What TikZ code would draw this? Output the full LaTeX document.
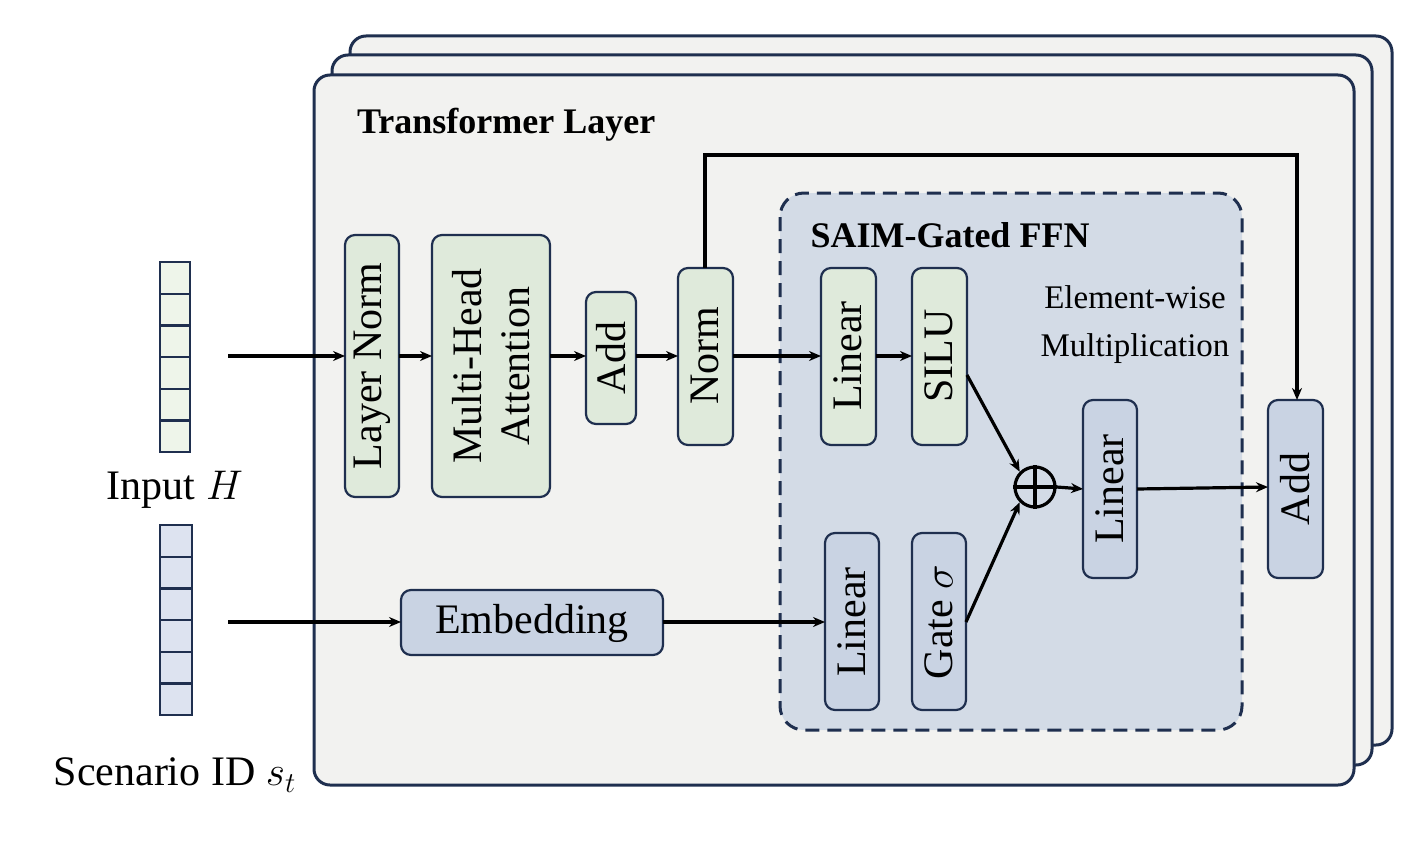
\documentclass[tikz,border=0pt]{standalone}
\usepackage{fontspec}
\setmainfont{Liberation Serif}
\usetikzlibrary{arrows.meta}
\definecolor{navy}{HTML}{1F2F4F}
\definecolor{bgf}{HTML}{F2F2F0}
\definecolor{gfill}{HTML}{DFEADB}
\definecolor{bfill}{HTML}{C9D3E3}
\definecolor{saim}{HTML}{D3DBE6}
\definecolor{cellg}{HTML}{EEF5EA}
\definecolor{cellb}{HTML}{DDE3F0}
\begin{document}
\begin{tikzpicture}[x=0.5pt,y=-0.5pt,
 frame/.style={draw=navy,line width=1.5pt,fill=bgf,rounded corners=8pt},
 gbox/.style={draw=navy,line width=1.1pt,fill=gfill,rounded corners=5pt},
 bbox/.style={draw=navy,line width=1.1pt,fill=bfill,rounded corners=5pt},
 lbl/.style={font=\fontsize{21}{24}\selectfont,rotate=90,align=center},
 arr/.style={-{Stealth[length=6pt,width=5pt]},line width=1.6pt},
 cellgs/.style={draw=navy,line width=1.1pt,fill=cellg},
 cellbs/.style={draw=navy,line width=1.1pt,fill=cellb}]
\useasboundingbox (0,0) rectangle (1428,840);
\draw[frame] (350,36) rectangle (1392,745);
\draw[frame] (332,55) rectangle (1372,765);
\draw[frame] (314,75) rectangle (1354,785);
\node[anchor=west,font=\bfseries\fontsize{18}{22}\selectfont] (tl) at (350,125) {Transformer Layer};
% input columns
\foreach \i in {0,...,5}{\draw[cellgs] (160,262+\i*31.7) rectangle (190,262+\i*31.7+31.7);}
\foreach \i in {0,...,5}{\draw[cellbs] (160,525+\i*31.7) rectangle (192,525+\i*31.7+31.7);}
\coordinate (inH) at (228,356);
\coordinate (inS) at (228,622);
\node[font=\fontsize{21}{25}\selectfont] (lh) at (175,490) {Input $H$};
\node[font=\fontsize{21}{25}\selectfont] (ls) at (175,775) {Scenario ID $s_t$};
% SAIM box
\draw[navy,line width=1.5pt,fill=saim,rounded corners=12pt,dash pattern=on 7pt off 4pt] (780,193) rectangle (1242,730);
\node[font=\bfseries\fontsize{18}{22}\selectfont] (st) at (950,235) {SAIM-Gated FFN};
\node[font=\fontsize{16.5}{24}\selectfont,align=center] (ew) at (1135,325) {Element-wise\\Multiplication};
% boxes
\draw[gbox] (345,235) rectangle (399,497); \node[lbl] (ln) at (372,366) {Layer Norm};
\draw[gbox] (432,235) rectangle (550,497); \node[lbl] (mha) at (491,366) {Multi-Head\\Attention};
\draw[gbox] (586,292) rectangle (636,424); \node[lbl] (add1) at (611,358) {Add};
\draw[gbox] (678,268) rectangle (733,445); \node[lbl] (norm) at (705,356) {Norm};
\draw[gbox] (821,268) rectangle (876,445); \node[lbl] (lin1) at (848,356) {Linear};
\draw[gbox] (912,268) rectangle (967,445); \node[lbl] (silu) at (939,356) {SILU};
\draw[bbox] (825,533) rectangle (879,710); \node[lbl] (lin2) at (852,622) {Linear};
\draw[bbox] (912,533) rectangle (966,710); \node[lbl] (gate) at (939,622) {Gate $\sigma$};
\draw[bbox] (1083,400) rectangle (1137,578); \node[lbl] (lin3) at (1110,489) {Linear};
\draw[bbox] (1268,400) rectangle (1323,578); \node[lbl] (add2) at (1295,489) {Add};
\draw[bbox] (401,590) rectangle (663,655); \node[font=\fontsize{21}{25}\selectfont] (emb) at (532,623) {Embedding};
% plus
\node[circle,draw=black,line width=1.6pt,minimum size=20pt,inner sep=0pt] (plus) at (1035,487) {};
\draw[line width=1.6pt] (plus.north)--(plus.south) (plus.west)--(plus.east);
% arrows
\draw[arr] (inH) -- (345,356);
\draw[arr] (399,356) -- (432,356);
\draw[arr] (550,356) -- (586,356);
\draw[arr] (636,356) -- (678,356);
\draw[arr] (733,356) -- (821,356);
\draw[arr] (876,356) -- (912,356);
\draw[arr] (967,375) -- (plus.north west);
\draw[arr] (966,622) -- (plus.south west);
\draw[arr] (plus.east) -- (1083,489);
\draw[arr] (1137,489) -- (1268,487);
\draw[arr] (705,268) -- (705,155) -- (1297,155) -- (1297,400);
\draw[arr] (inS) -- (401,622);
\draw[arr] (663,622) -- (825,622);
\end{tikzpicture}
\end{document}
